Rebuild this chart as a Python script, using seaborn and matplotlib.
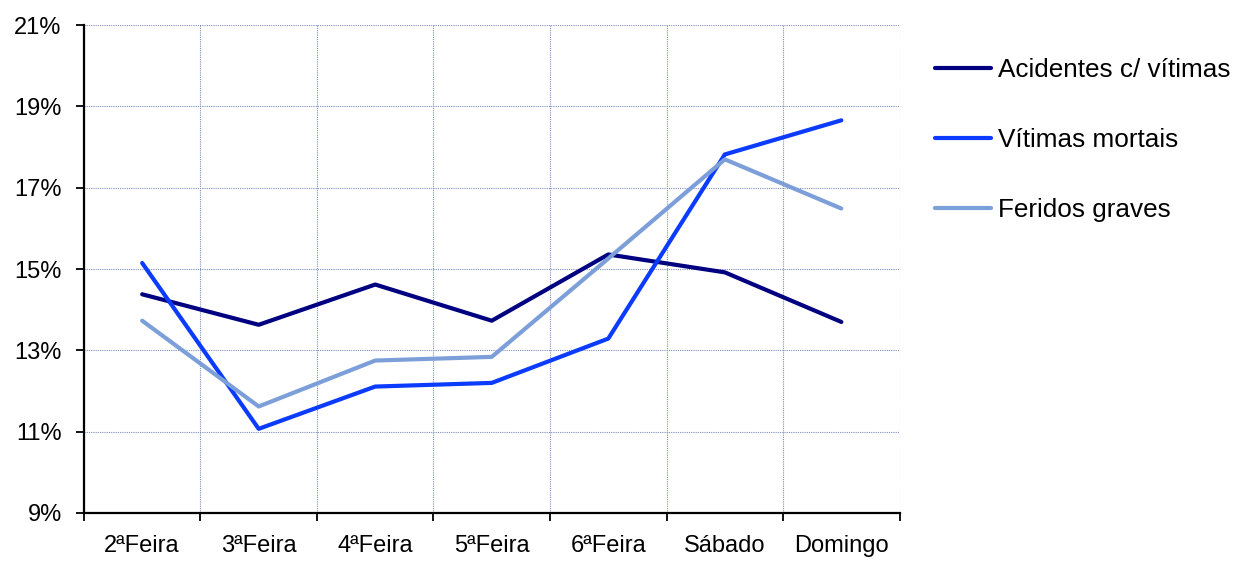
import pandas as pd
import numpy as np
import matplotlib
matplotlib.use('Agg')
import matplotlib.pyplot as plt
import seaborn as sns
from matplotlib.ticker import FixedLocator, PercentFormatter

dias = ['2ªFeira', '3ªFeira', '4ªFeira', '5ªFeira', '6ªFeira', 'Sábado', 'Domingo']
acidentes = [14.38, 13.63, 14.62, 13.73, 15.36, 14.92, 13.70]
mortais = [15.15, 11.07, 12.11, 12.20, 13.29, 17.82, 18.66]
feridos = [13.73, 11.62, 12.75, 12.84, 15.26, 17.70, 16.49]
series = ['Acidentes c/ vítimas', 'Vítimas mortais', 'Feridos graves']
cores = ['#000080', '#0A3BFF', '#7C9FD9']

df = pd.DataFrame({'dia': np.arange(len(dias)),
                   series[0]: acidentes, series[1]: mortais, series[2]: feridos})
df_long = df.melt(id_vars='dia', var_name='serie', value_name='valor')

sns.set_style('white')
plt.rcParams['font.family'] = ['Liberation Sans', 'DejaVu Sans']
plt.rcParams['text.color'] = 'black'
plt.rcParams['xtick.color'] = 'black'
plt.rcParams['ytick.color'] = 'black'

fig = plt.figure(figsize=(12.34, 5.61), dpi=100)
ax = fig.add_axes([0.068, 0.0856, 0.661, 0.8695])

sns.lineplot(data=df_long, x='dia', y='valor', hue='serie', hue_order=series,
             palette=cores, linewidth=3, ax=ax)

ax.set_xlim(-0.5, 6.5)
ax.set_ylim(9, 21)
ax.set_yticks(range(9, 22, 2))
ax.yaxis.set_major_formatter(PercentFormatter(decimals=0))
ax.xaxis.set_major_locator(FixedLocator(np.arange(-0.5, 7, 1)))
ax.xaxis.set_minor_locator(FixedLocator(np.arange(7)))
ax.set_xticklabels([])
ax.set_xticklabels(dias, minor=True)
ax.tick_params(axis='x', which='minor', length=0, pad=16, labelsize=17)
ax.tick_params(axis='x', which='major', length=6, width=1.3, direction='out', color='black', bottom=True)
ax.tick_params(axis='y', length=6, width=1.3, direction='out', color='black', labelsize=17, left=True, pad=10)
ax.set_xlabel('')
ax.set_ylabel('')

ax.grid(True, which='major', color='#7F8EBE', linestyle=(0, (1, 1)), linewidth=0.8)
for s in ['top', 'right']:
    ax.spines[s].set_visible(False)
for s in ['left', 'bottom']:
    ax.spines[s].set_color('black')
    ax.spines[s].set_linewidth(1.6)

ax.legend(loc='upper left', bbox_to_anchor=(0.7577, 0.896), bbox_transform=fig.transFigure,
          frameon=False, fontsize=18.8, borderpad=0, borderaxespad=0,
          handlelength=2.15, handletextpad=0.27, labelspacing=1.75)

fig.savefig('out.png', dpi=100)
